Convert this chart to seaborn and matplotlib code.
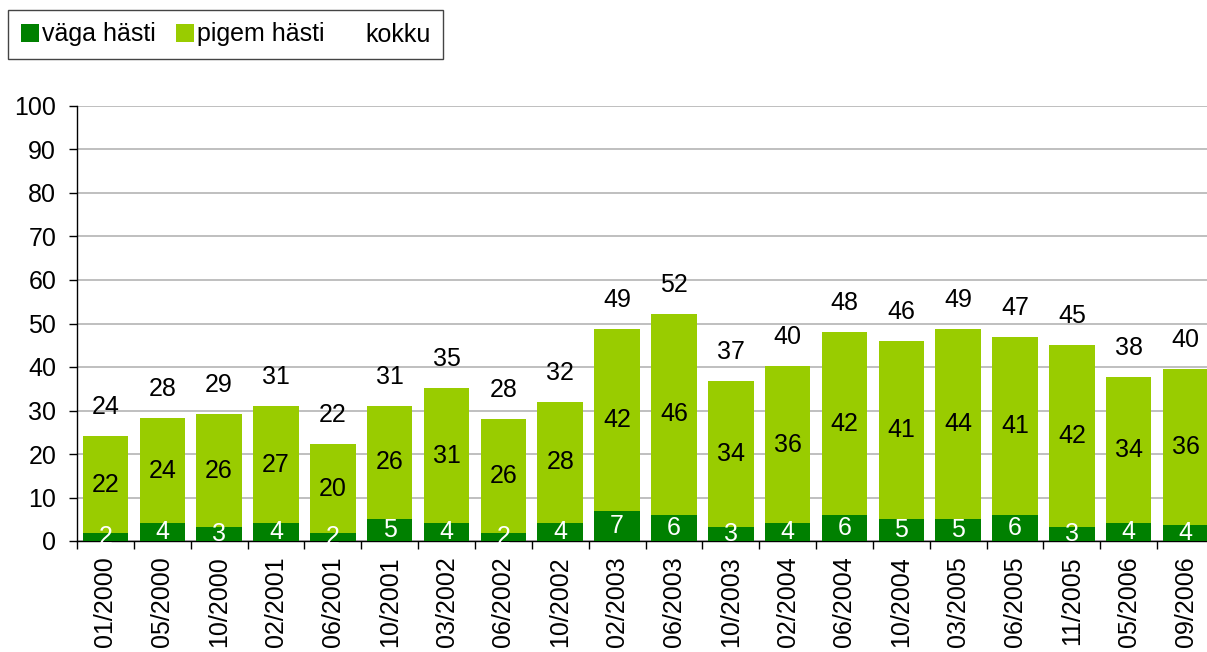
"""Stacked bar chart: väga hästi / pigem hästi with totals (kokku)."""
import matplotlib
matplotlib.use("Agg")
import matplotlib.pyplot as plt
from matplotlib.patches import Patch
import seaborn as sns

periods = ["01/2000", "05/2000", "10/2000", "02/2001", "06/2001", "10/2001",
           "03/2002", "06/2002", "10/2002", "02/2003", "06/2003", "10/2003",
           "02/2004", "06/2004", "10/2004", "03/2005", "06/2005", "11/2005",
           "05/2006", "09/2006"]
vaga = [1.8, 4.1, 3.2, 4.1, 1.8, 5.1, 4.1, 1.8, 4.1, 6.8,
        6.0, 3.2, 4.1, 6.0, 5.1, 5.1, 6.0, 3.2, 4.1, 3.7]
pigem = [22.3, 24.2, 26.0, 26.9, 20.4, 25.9, 31.1, 26.2, 27.9, 41.9,
         46.2, 33.6, 36.1, 42.0, 40.9, 43.6, 40.9, 41.9, 33.6, 35.9]
kokku = [v + p for v, p in zip(vaga, pigem)]

DARK = "#008000"
LIGHT = "#99cc00"
FS = 18


def main():
    sns.set_style("white")
    plt.rcParams['font.family'] = ['Liberation Sans', 'DejaVu Sans']
    plt.rcParams['text.color'] = 'black'
    plt.rcParams['xtick.color'] = 'black'
    plt.rcParams['ytick.color'] = 'black'

    fig = plt.figure(figsize=(12.07, 6.52), dpi=100)
    ax = fig.add_axes([77 / 1207, 1 - 541 / 652, (1214 - 77) / 1207, (541 - 106) / 652])

    # totals first (light), then the dark part on top of it
    sns.barplot(x=periods, y=kokku, color=LIGHT, saturation=1, width=0.8,
                errorbar=None, ax=ax, zorder=2, linewidth=0, edgecolor='none')
    sns.barplot(x=periods, y=vaga, color=DARK, saturation=1, width=0.8,
                errorbar=None, ax=ax, zorder=3, linewidth=0, edgecolor='none')

    for i, (v, p, k) in enumerate(zip(vaga, pigem, kokku)):
        ax.text(i, v / 2, f"{round(v)}", ha='center', va='center',
                color='white', fontsize=FS, zorder=4)
        ax.text(i, v + p / 2, f"{round(p)}", ha='center', va='center',
                color='black', fontsize=FS, zorder=4)
        ax.annotate(f"{round(k)}", (i, k), xytext=(0, 21), textcoords='offset points',
                    ha='center', va='center', color='black', fontsize=FS, zorder=4)

    ax.set_ylim(0, 100)
    ax.set_yticks(range(0, 101, 10))
    ax.set_xlim(-0.5, len(periods) - 0.5)
    ax.yaxis.grid(True, color='#b4b4b4', linewidth=1.2)
    ax.xaxis.grid(False)
    ax.set_axisbelow(True)

    ax.set_xticks(range(len(periods)))
    ax.set_xticklabels(periods, rotation=90)
    ax.set_xticks([i - 0.5 for i in range(len(periods) + 1)], minor=True)
    ax.tick_params(axis='x', which='major', length=0, pad=11, labelsize=FS,
                   labelcolor='black')
    ax.tick_params(axis='x', which='minor', bottom=True, length=6, width=1,
                   color='black', direction='out')
    ax.tick_params(axis='y', left=True, length=6, width=1, color='black',
                   direction='out', pad=9, labelsize=FS, labelcolor='black')
    ax.set_xlabel('')
    ax.set_ylabel('')

    for side in ['top', 'right']:
        ax.spines[side].set_visible(False)
    for side in ['left', 'bottom']:
        ax.spines[side].set_color('black')
        ax.spines[side].set_linewidth(1)

    handles = [Patch(facecolor=DARK, edgecolor='none'),
               Patch(facecolor=LIGHT, edgecolor='none'),
               Patch(facecolor='none', edgecolor='none')]
    leg = fig.legend(handles, ["väga hästi", "pigem hästi", "kokku"],
                     loc='upper left', bbox_to_anchor=(8 / 1207, 1 - 10 / 652),
                     ncol=3, fontsize=FS, frameon=True, fancybox=False,
                     framealpha=1, edgecolor='#444444', borderpad=0.5,
                     borderaxespad=0, handlelength=0.75, handleheight=0.75,
                     handletextpad=0.1, columnspacing=0.8, labelcolor='black')
    leg.get_frame().set_linewidth(1)

    fig.savefig("out.png", dpi=100)
    plt.close(fig)


if __name__ == '__main__':
    main()
